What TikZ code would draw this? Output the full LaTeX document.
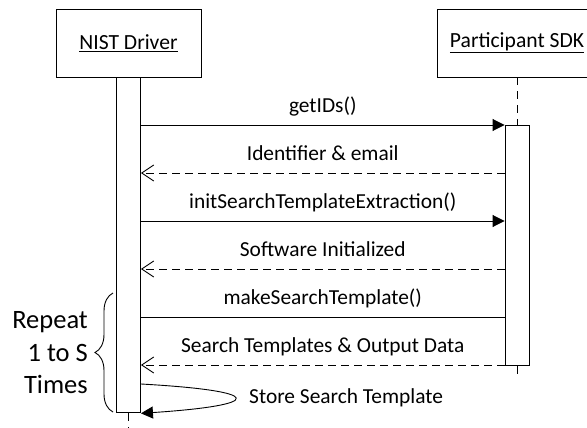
\documentclass[tikz,border=0pt]{standalone}
\usepackage{fontspec}
\setmainfont{Carlito}
\usetikzlibrary{arrows.meta,decorations.pathreplacing}
\begin{document}
\begin{tikzpicture}[x=1pt,y=-1pt,
  actor/.style={draw, line width=0.9pt, minimum width=145pt, minimum height=68pt, inner sep=0pt, font=\fontsize{21.6}{26}\selectfont},
  bar/.style={draw, fill=white, line width=0.9pt, minimum width=24pt, inner sep=0pt},
  life/.style={line width=0.9pt, dash pattern=on 8pt off 6pt},
  plain/.style={line width=0.9pt},
  call/.style={line width=0.9pt, -{Triangle[length=12pt,width=12pt]}},
  reply/.style={line width=0.9pt, dash pattern=on 8pt off 5pt, -{Straight Barb[length=12pt,width=16pt]}},
  lbl/.style={font=\fontsize{21.4}{26}\selectfont, inner sep=0pt},
  msg/.style={lbl, anchor=base, yshift=12.5pt}
]
\useasboundingbox (0,0) rectangle (587,428);
\node[actor] (drv) at (128.5,43) {\underline{NIST Driver}};
\node[actor, minimum width=160pt] (sdk) at (517,43) {\underline{Participant SDK}};
\node[bar, minimum height=335pt, anchor=north] (drvbar) at (drv.south) {};
\node[bar, minimum height=240pt, anchor=north] (sdkbar) at (517,125) {};
\coordinate (drvend) at (128.5,428);
\coordinate (sdkend) at (517,375);
\draw[life] (sdk.south) -- (sdkbar.north);
\draw[life] (sdkbar.south) -- (sdkend);
\draw[life] (drvbar.south) -- (drvend);
% message rows
\coordinate (m1) at (0,125);
\coordinate (m2) at (0,173);
\coordinate (m3) at (0,221);
\coordinate (m4) at (0,269);
\coordinate (m5) at (0,317);
\coordinate (m6) at (0,365);
\coordinate (m7) at (0,384);
\draw[call] (drvbar.east |- m1) -- node[msg] (l1) {getIDs()} (sdkbar.west |- m1);
\draw[reply] (sdkbar.west |- m2) -- node[msg] (l2) {Identifier \& email} (drvbar.east |- m2);
\draw[call] (drvbar.east |- m3) -- node[msg] (l3) {initSearchTemplateExtraction()} (sdkbar.west |- m3);
\draw[reply] (sdkbar.west |- m4) -- node[msg] (l4) {Software Initialized} (drvbar.east |- m4);
\draw[plain] (drvbar.east |- m5) -- node[msg] (l5) {makeSearchTemplate()} (sdkbar.west |- m5);
\draw[reply] (sdkbar.west |- m6) -- node[msg] (l6) {Search Templates \& Output Data} (drvbar.east |- m6);
\draw[call] (drvbar.east |- m7) .. controls (266,391) and (266,405) .. (drvbar.south east);
\node[lbl, anchor=west] (l7) at (249,398) {Store Search Template};
% repeat brace
\coordinate (bracetop) at (113,293);
\coordinate (bracebot) at (113,412);
\draw[plain, decorate, decoration={brace, amplitude=18pt}] (bracebot) -- (bracetop);
\node[font=\fontsize{26.5}{32.5}\selectfont, align=right, anchor=east, inner sep=0pt] (rep) at (88,353) {Repeat\\1 to S\\Times};
\end{tikzpicture}
\end{document}
